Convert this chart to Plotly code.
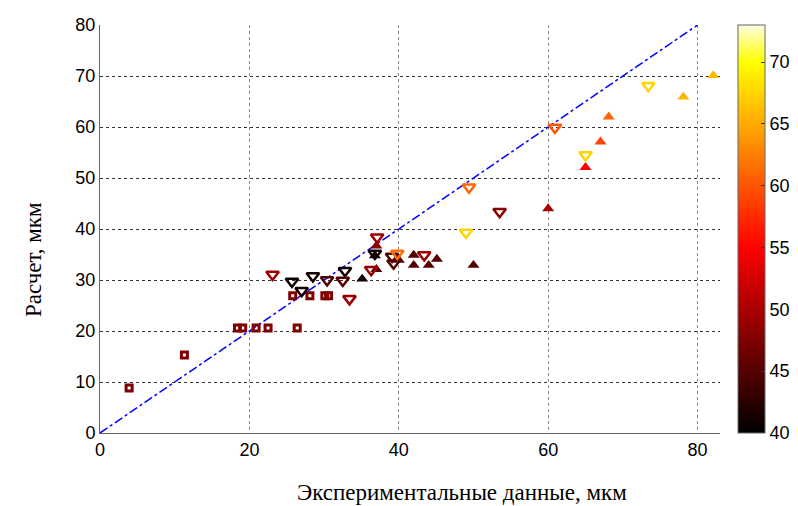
import plotly.graph_objects as go

# --- data ---
sq_x = [3.9, 11.3, 18.4, 19.1, 20.9, 22.5, 26.4, 25.8, 28.1, 30.1, 30.6]
sq_y = [8.8, 15.3, 20.6, 20.6, 20.6, 20.6, 20.6, 26.9, 26.9, 26.9, 26.9]
sq_c = [47.5] * 11

dn_x = [23.1, 25.7, 27.0, 28.5, 30.4, 32.5, 32.8, 33.4, 37.1, 36.8, 36.3, 39.1, 39.3, 39.8,
        43.4, 49.0, 49.4, 53.5, 60.9, 65.0, 73.4]
dn_y = [31.1, 29.7, 27.9, 30.8, 30.0, 29.9, 31.8, 26.3, 38.4, 35.2, 32.0, 34.6, 33.3, 35.2,
        34.9, 39.3, 48.2, 43.4, 59.9, 54.5, 68.1]
dn_c = [49, 41, 41, 41, 45, 45, 41, 49, 49, 41, 49, 45, 45, 61.5,
        49, 67.5, 61, 48, 60, 67.5, 67.5]

up_x = [35.1, 37.0, 36.8, 37.0, 40.0, 42.0, 42.0, 44.0, 45.1, 50.0, 60.0, 68.1, 67.0, 65.0, 78.1, 82.1]
up_y = [30.2, 36.7, 34.8, 32.1, 33.9, 34.9, 32.9, 32.9, 34.1, 32.9, 44.0, 62.0, 57.1, 52.1, 65.9, 70.1]
up_c = [41, 48, 41, 45, 45, 45, 45, 45, 45, 45, 50, 61, 59, 55, 65.5, 66]

line_x = [0, 80]
line_y = [0, 80]

cb_ticks = [40, 45, 50, 55, 60, 65, 70]
x_ticks = [0, 20, 40, 60, 80]
y_ticks = [0, 10, 20, 30, 40, 50, 60, 70, 80]

x_title = "Экспериментальные данные, мкм"
y_title = "Расчет, мкм"

# MATLAB-like 'hot' colormap, colorbar 40..73
cmin, cmax = 40, 73
def frac(v):
    return (v - cmin) / (cmax - cmin)
colorscale = [
    [0.0, "rgb(0,0,0)"],
    [frac(55), "rgb(255,0,0)"],
    [frac(70), "rgb(255,255,0)"],
    [1.0, "rgb(255,255,225)"],
]

fig = go.Figure()

fig.add_trace(go.Scatter(
    x=line_x, y=line_y, mode="lines",
    line=dict(color="blue", width=1.5, dash="dashdot"),
    hoverinfo="skip", showlegend=False))

fig.add_trace(go.Scatter(
    x=sq_x, y=sq_y, mode="markers", showlegend=False,
    marker=dict(symbol="square-open", size=6, color=sq_c, coloraxis="coloraxis",
                line=dict(width=3))))

fig.add_trace(go.Scatter(
    x=up_x, y=up_y, mode="markers", showlegend=False,
    marker=dict(symbol="triangle-up", size=10.5, color=up_c, coloraxis="coloraxis",
                line=dict(width=0))))

fig.add_trace(go.Scatter(
    x=dn_x, y=dn_y, mode="markers", showlegend=False,
    marker=dict(symbol="triangle-down-open", size=11, color=dn_c, coloraxis="coloraxis",
                line=dict(width=2.5))))

tickfont = dict(family="Liberation Sans, Arial, sans-serif", size=18, color="black")

fig.update_layout(
    width=798, height=506,
    margin=dict(l=100, r=78, t=25, b=73, autoexpand=False),
    paper_bgcolor="white", plot_bgcolor="white",
    coloraxis=dict(
        colorscale=colorscale, cmin=cmin, cmax=cmax,
        colorbar=dict(
            x=1.029, xanchor="left", y=0.5, yanchor="middle", len=1.0, lenmode="fraction",
            thickness=27, xpad=0, ypad=0,
            outlinewidth=1, outlinecolor="#666",
            tickvals=cb_ticks, ticks="inside", ticklen=4, tickcolor="#333",
            tickfont=tickfont,
        ),
    ),
    xaxis=dict(
        range=[0, 83.0], tickvals=x_ticks, tickfont=tickfont,
        showgrid=True, gridcolor="#888", griddash="dot", gridwidth=1.3,
        showline=True, linecolor="#666", linewidth=1, zeroline=False,
        ticks="", fixedrange=True,
    ),
    yaxis=dict(
        range=[0, 80], tickvals=y_ticks, tickfont=tickfont,
        showgrid=True, gridcolor="#333", griddash="3px,3px", gridwidth=1,
        showline=True, linecolor="#666", linewidth=1, zeroline=False,
        ticks="", fixedrange=True,
    ),
    annotations=[
        dict(text=x_title, xref="paper", yref="paper", x=0.584, y=-0.147,
             xanchor="center", yanchor="middle", showarrow=False,
             font=dict(family="Liberation Serif, Times New Roman, serif", size=23, color="black")),
        dict(text=y_title, xref="paper", yref="paper", x=-0.108, y=0.424,
             xanchor="center", yanchor="middle", showarrow=False, textangle=-90,
             font=dict(family="Liberation Serif, Times New Roman, serif", size=23, color="black")),
    ],
)

fig.write_html("out.html", config={"displayModeBar": False},
               post_script="document.body.style.margin='0';document.body.style.padding='0';")
